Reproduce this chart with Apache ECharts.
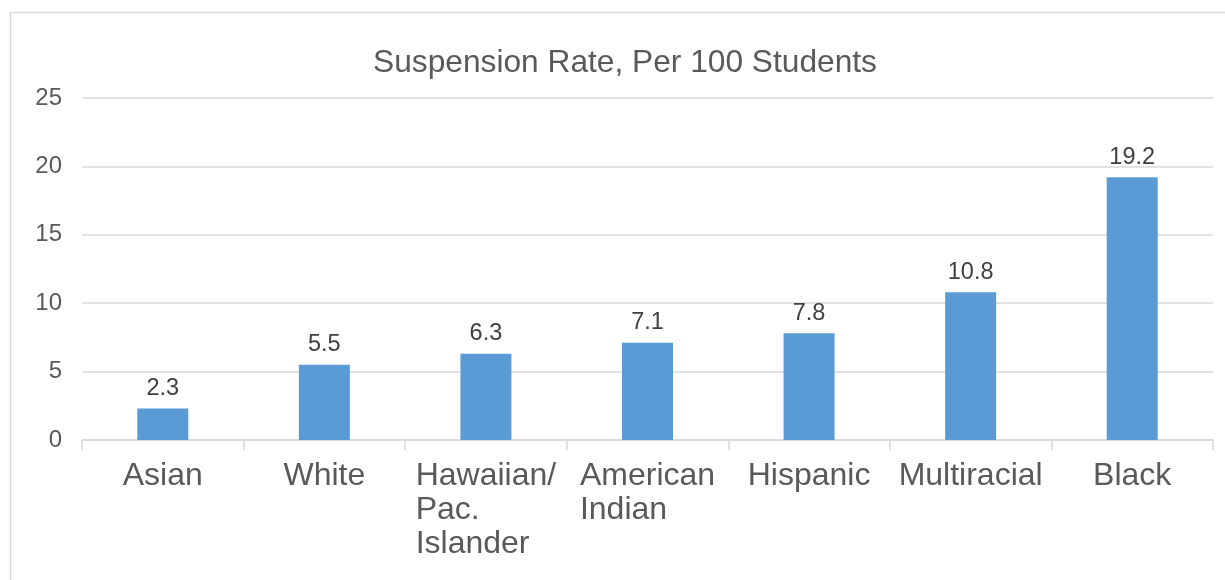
<!DOCTYPE html>
<html>
<head>
<meta charset="utf-8">
<title>Suspension Rate, Per 100 Students</title>
<script src="https://cdn.jsdelivr.net/npm/echarts@6/dist/echarts.min.js"></script>
<style>
  html, body { margin: 0; padding: 0; background: #ffffff; }
  #chart { width: 1225px; height: 580px; }
</style>
</head>
<body>
<div id="chart"></div>
<script>
// Suspension rate per 100 students, by group
const categories = ['Asian', 'White', 'Hawaiian/\nPac.\nIslander', 'American\nIndian', 'Hispanic', 'Multiracial', 'Black'];
const rates = [2.3, 5.5, 6.3, 7.1, 7.8, 10.8, 19.2];
const yTicks = [0, 5, 10, 15, 20, 25];

const FONT = '"Liberation Sans", Arial, sans-serif';
const chart = echarts.init(document.getElementById('chart'), null, { renderer: 'canvas' });

// multi-line category labels: lines left-aligned inside a centred block
function categoryLabel(value) {
  return value.split('\n').map(function (line) { return '{l|' + line + '}'; }).join('\n');
}

chart.setOption({
  animation: false,
  backgroundColor: '#ffffff',
  graphic: [{
    type: 'rect',
    silent: true,
    shape: { x: 10.5, y: 12.5, width: 1300, height: 700 },
    style: { fill: 'none', stroke: '#d9d9d9', lineWidth: 1.5 }
  }],
  title: {
    text: 'Suspension Rate, Per 100 Students',
    left: 620,
    top: 42,
    textAlign: 'center',
    textStyle: { fontFamily: FONT, fontSize: 31.7, fontWeight: 'normal', color: '#595959' }
  },
  grid: { left: 82, right: 12, top: 98, bottom: 140, containLabel: false },
  xAxis: {
    type: 'category',
    data: categories,
    axisLine: { show: true, lineStyle: { color: '#d9d9d9', width: 1.5 } },
    axisTick: { show: true, alignWithLabel: false, length: 10, lineStyle: { color: '#d9d9d9', width: 1.5 } },
    axisLabel: {
      interval: 0,
      margin: 19,
      formatter: categoryLabel,
      fontFamily: FONT,
      fontSize: 32,
      lineHeight: 34,
      color: '#595959',
      rich: { l: { align: 'left', fontFamily: FONT, fontSize: 32, lineHeight: 34, color: '#595959' } }
    },
    splitLine: { show: false }
  },
  yAxis: {
    type: 'value',
    min: yTicks[0],
    max: yTicks[yTicks.length - 1],
    interval: yTicks[1] - yTicks[0],
    axisLine: { show: false },
    axisTick: { show: false },
    axisLabel: { margin: 20, fontFamily: FONT, fontSize: 24, color: '#595959' },
    splitLine: { show: true, lineStyle: { color: '#d9d9d9', width: 1.5 } }
  },
  series: [{
    type: 'bar',
    data: rates,
    barWidth: 51,
    itemStyle: { color: '#5b9bd5' },
    label: {
      show: true,
      position: 'top',
      distance: 8,
      fontFamily: FONT,
      fontSize: 23.5,
      color: '#404040',
      formatter: function (p) { return p.value.toFixed(1); }
    }
  }]
});
</script>
</body>
</html>
